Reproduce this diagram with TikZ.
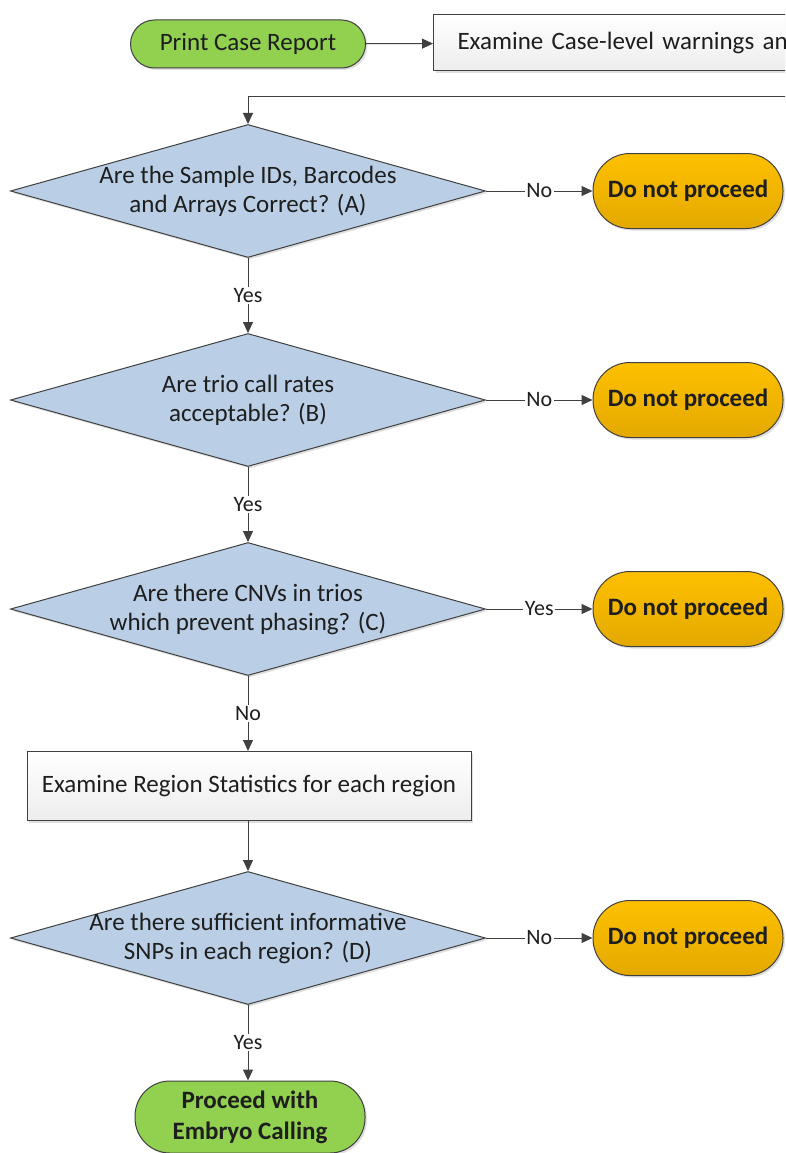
\documentclass[tikz,border=0pt]{standalone}
\usepackage{fontspec}
\setmainfont{Carlito}
\usetikzlibrary{shapes.geometric,arrows.meta,shadows}
\definecolor{lineC}{HTML}{404040}
\definecolor{txtC}{HTML}{1E1E1E}
\definecolor{greenC}{HTML}{92D050}
\definecolor{orangeT}{HTML}{FFC000}
\definecolor{orangeB}{HTML}{E3A900}
\definecolor{blueC}{HTML}{BACFE6}
\definecolor{boxT}{HTML}{FFFFFF}
\definecolor{boxB}{HTML}{EDEDED}
\tikzset{
  shad/.style={drop shadow={opacity=0.25,shadow xshift=2pt,shadow yshift=-2pt}},
  term/.style={shape=rectangle,rounded corners=24pt,draw=lineC,line width=1pt,fill=greenC,text=txtC,align=center,shad,font=\fontsize{25}{31}\selectfont},
  stop/.style={shape=rectangle,rounded corners=37pt,draw=lineC,line width=1pt,top color=orangeT,bottom color=orangeB,text=txtC,minimum width=190pt,minimum height=75pt,font=\bfseries\fontsize{25}{30}\selectfont,shad},
  decision/.style={shape=diamond,draw=lineC,line width=1pt,fill=blueC,aspect=3.57,minimum width=475pt,minimum height=133pt,inner sep=0pt,shad},
  dtext/.style={align=center,text=txtC,font=\fontsize{25}{29}\selectfont},
  proc/.style={shape=rectangle,draw=lineC,line width=1pt,top color=boxT,bottom color=boxB,text=txtC,font=\fontsize{25}{30}\selectfont,shad},
  arr/.style={draw=lineC,line width=1pt,-{Triangle[length=11pt,width=10pt]}},
  lbl/.style={fill=white,inner sep=1.5pt,text=txtC,font=\fontsize{22}{24}\selectfont}
}
\begin{document}
\begin{tikzpicture}[x=1pt,y=-1pt]
\useasboundingbox (0,0) rectangle (785,1153);
\clip (0,0) rectangle (785,1153);
\fill[white] (0,0) rectangle (785,1153);
% top row
\node[term,minimum width=235pt,minimum height=48pt] (print) at (248,44) {Print Case Report};
\node[proc,anchor=west,minimum height=56pt,inner xsep=24pt,text width=500pt,align=left] (exam) at (433,43) {Examine Case-level warnings and};
\coordinate (back) at (800,97);
\coordinate (turn) at (248,97);
% decisions
\node[decision,label={[dtext]center:Are the Sample IDs, Barcodes\\and Arrays Correct? (A)}] (dA) at (248,191) {};
\node[decision,label={[dtext]center:Are trio call rates\\acceptable? (B)}] (dB) at (248,400) {};
\node[decision,label={[dtext]center:Are there CNVs in trios\\which prevent phasing? (C)}] (dC) at (248,609) {};
\node[proc,minimum width=444pt,minimum height=69pt] (region) at (249,786) {Examine Region Statistics for each region};
\node[decision,label={[dtext]center:Are there sufficient informative\\SNPs in each region? (D)}] (dD) at (248,938) {};
\node[term,font=\bfseries\fontsize{25}{31}\selectfont,rounded corners=35pt,minimum width=230pt,minimum height=72pt] (go) at (250,1117) {Proceed with\\Embryo Calling};
% stops
\node[stop] (sA) at (688,191) {Do not proceed};
\node[stop] (sB) at (688,400) {Do not proceed};
\node[stop] (sC) at (688,609) {Do not proceed};
\node[stop] (sD) at (688,938) {Do not proceed};
% connectors
\draw[arr] (print) -- (exam);
\draw[arr] (back) -- (turn) -- (dA.north);
\draw[arr] (dA.east) -- node[lbl]{No} (sA.west);
\draw[arr] (dB.east) -- node[lbl]{No} (sB.west);
\draw[arr] (dC.east) -- node[lbl]{Yes} (sC.west);
\draw[arr] (dD.east) -- node[lbl]{No} (sD.west);
\draw[arr] (dA.south) -- node[lbl]{Yes} (dB.north);
\draw[arr] (dB.south) -- node[lbl]{Yes} (dC.north);
\draw[arr] (dC.south) -- node[lbl]{No} (region.north -| dC.south);
\draw[arr] (region.south -| dD.north) -- (dD.north);
\draw[arr] (dD.south) -- node[lbl]{Yes} (go.north -| dD.south);
\end{tikzpicture}
\end{document}
